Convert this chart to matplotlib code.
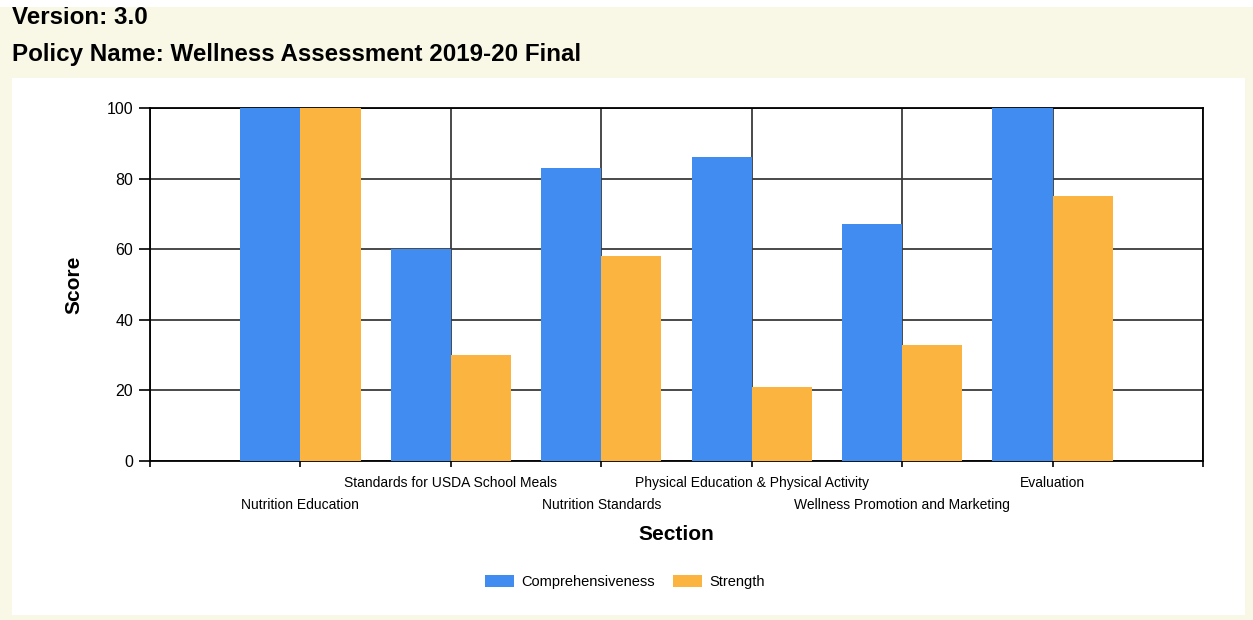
import matplotlib.pyplot as plt
import matplotlib.patches as mpatches
import numpy as np

plt.rcParams["font.family"] = ["Liberation Sans", "DejaVu Sans"]

sections = [
    "Nutrition Education",
    "Standards for USDA School Meals",
    "Nutrition Standards",
    "Physical Education & Physical Activity",
    "Wellness Promotion and Marketing",
    "Evaluation",
]
comprehensiveness = [100, 60, 83, 86, 67, 100]
strength = [100, 30, 58, 21, 33, 75]

BLUE = "#418CF0"
ORANGE = "#FCB441"
W, H = 1253, 620

fig = plt.figure(figsize=(W / 100, H / 100), dpi=100)
fig.patch.set_facecolor("#F9F8E7")
# white strip at very top (clips the header a bit) and white chart panel
fig.patches.append(mpatches.Rectangle((0, 1 - 7 / H), 1, 7 / H, transform=fig.transFigure,
                                      facecolor="white", edgecolor="none", zorder=10))
fig.patches.append(mpatches.Rectangle((12 / W, (H - 615) / H), (1245 - 12) / W, (615 - 78) / H,
                                      transform=fig.transFigure, facecolor="white",
                                      edgecolor="none", zorder=-5))

fig.text(12 / W, 1 - 23.5 / H, "Version: 3.0", fontsize=17.4, fontweight="bold", va="baseline")
fig.text(12 / W, 1 - 61 / H, "Policy Name: Wellness Assessment 2019-20 Final",
         fontsize=17.4, fontweight="bold", va="baseline")

ax = fig.add_axes([150 / W, (H - 461) / H, (1203 - 150) / W, (461 - 108) / H])
ax.set_facecolor("white")

x = np.arange(1, len(sections) + 1)
bw = 0.4
ax.bar(x - bw / 2, comprehensiveness, bw, color=BLUE, label="Comprehensiveness", zorder=3)
ax.bar(x + bw / 2, strength, bw, color=ORANGE, label="Strength", zorder=3)

ax.set_xlim(0, len(sections) + 1)
ax.set_ylim(0, 100)
ax.set_yticks([0, 20, 40, 60, 80, 100])
ax.set_xticks(np.arange(0, len(sections) + 2))
ax.set_xticklabels([""] + sections + [""])
ax.grid(True, color="#3a3a3a", linewidth=1.3, zorder=1)
ax.set_axisbelow(True)
for s in ax.spines.values():
    s.set_color("black")
    s.set_linewidth(1.3)
ax.tick_params(axis="both", width=1.2, color="black")
ax.tick_params(axis="y", length=8, labelsize=11.5, pad=4, colors="black")
ax.tick_params(axis="x", length=4.5, labelsize=10)

ticks = ax.xaxis.get_major_ticks()
for i, t in enumerate(ticks[1:-1]):
    t.set_pad(6.5 if i % 2 == 1 else 22)

ax.set_xlabel("Section", fontsize=15, fontweight="bold", labelpad=9.5)
ax.set_ylabel("Score", fontsize=15, fontweight="bold")
ax.yaxis.set_label_coords((83 - 150) / (1203 - 150), 0.5)

leg = fig.legend(loc="center", bbox_to_anchor=(625 / W, 1 - 582 / H), ncol=2, frameon=False,
                 fontsize=10.5, handlelength=2.0, handleheight=0.85, columnspacing=1.2,
                 handletextpad=0.5)

fig.savefig("out.png", dpi=100, facecolor=fig.get_facecolor())
